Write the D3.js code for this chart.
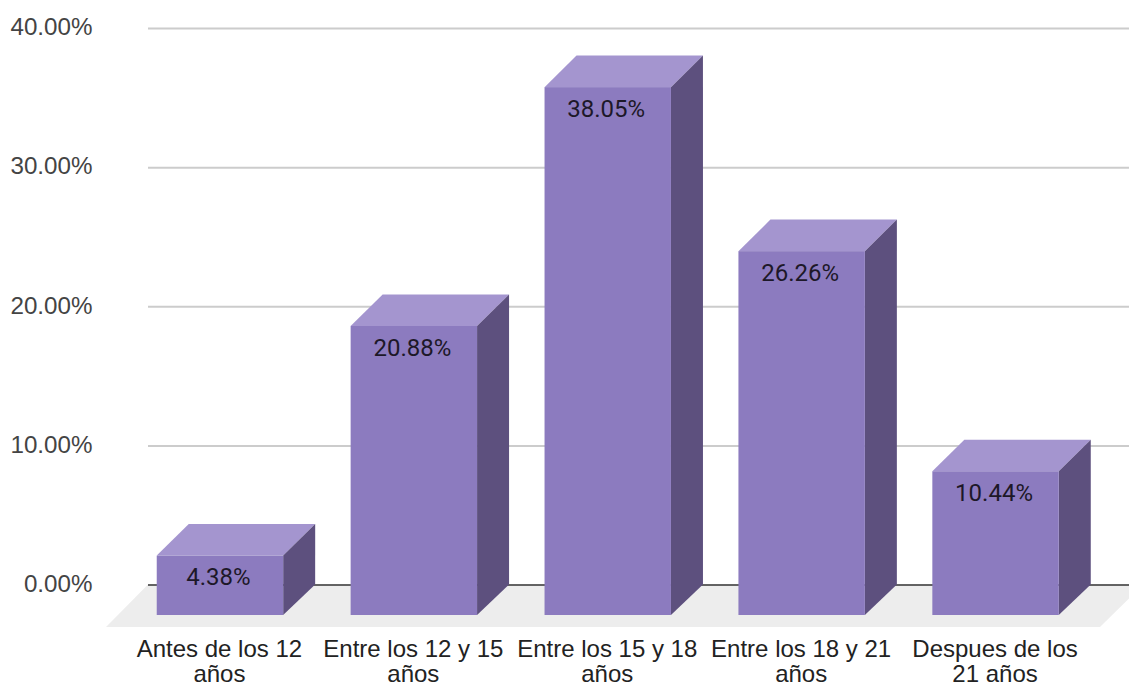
<!DOCTYPE html>
<html lang="es">
<head>
<meta charset="UTF-8" />
<title>Chart</title>
<style>
  html, body { margin: 0; padding: 0; background: #fff; overflow: hidden; }
  svg { display: block; }
</style>
</head>
<body>
<div id="container"></div>
<script src="https://cdnjs.cloudflare.com/ajax/libs/d3/7.8.5/d3.min.js"></script>
<script>
  const categories = [
    "Antes de los 12\naños",
    "Entre los 12 y 15\naños",
    "Entre los 15 y 18\naños",
    "Entre los 18 y 21\naños",
    "Despues de los\n21 años"
  ];
  const values = [4.38, 20.88, 38.05, 26.26, 10.44];
  const yTicks = [0, 10, 20, 30, 40];

  const width = 1129, height = 684;
  const depth = 32; // how far the front of the bars sits from the back wall
  const frontBottom = 615;
  const axisFont = "'Liberation Sans', Arial, sans-serif";

  const svg = d3.select("#container").append("svg")
    .attr("width", width).attr("height", height);

  const y = d3.scaleLinear().domain([0, 40]).range([584.5, 28]);
  // band scale is on the front plane of the bars
  const x = d3.scaleBand().domain(categories)
    .range([123, 1092.5]).paddingInner(0.348).paddingOuter(0.174);

  // floor
  svg.append("path")
    .attr("d", `M106,${y(0) + 42.5}L148,${y(0)}H${width}V${y(0) + 14}L1100,${y(0) + 42.5}Z`)
    .attr("fill", "#ededed");

  // grid + y labels
  const yAxis = d3.axisLeft(y).tickValues(yTicks)
    .tickFormat(d => d.toFixed(2) + "%")
    .tickSizeInner(-(width - 148)).tickSizeOuter(0).tickPadding(55.5);
  const yG = svg.append("g").attr("transform", "translate(148,0)").call(yAxis);
  yG.select(".domain").remove();
  yG.selectAll(".tick line")
    .attr("stroke", d => d === 0 ? "#333" : "#ccc")
    .attr("stroke-width", d => d === 0 ? 1.5 : 2);
  yG.selectAll(".tick text")
    .attr("dy", "0.28em")
    .attr("fill", "#444").style("font", `24.2px ${axisFont}`);

  // bars
  const bar = svg.selectAll("g.bar").data(values).enter().append("g")
    .attr("class", "bar")
    .attr("transform", (d, i) => `translate(${x(categories[i])},0)`);
  const w = x.bandwidth();

  bar.append("path") // top
    .attr("d", d => `M0,${y(d) + depth}L${depth},${y(d) + 0.4}H${w + depth}L${w},${y(d) + depth}Z`)
    .attr("fill", "#a495cf");
  bar.append("path") // side
    .attr("d", d => `M${w},${y(d) + depth}L${w + depth},${y(d) + 0.4}V${y(0)}L${w},${frontBottom}Z`)
    .attr("fill", "#5d507e");
  bar.append("rect") // front
    .attr("y", d => y(d) + depth)
    .attr("width", w)
    .attr("height", d => frontBottom - y(d) - depth)
    .attr("fill", "#8c7bbf");

  // data labels
  bar.append("text")
    .text(d => d.toFixed(2) + "%")
    .attr("x", w / 2 - 1.5)
    .attr("y", d => y(d) + depth + 29.5)
    .attr("text-anchor", "middle")
    .attr("fill", "#1d1828")
    .style("font", "24px Roboto, sans-serif");

  // x labels
  const xLabel = svg.selectAll("text.xlabel").data(categories).enter().append("text")
    .attr("class", "xlabel")
    .attr("text-anchor", "middle")
    .attr("fill", "#222")
    .style("font", `24px ${axisFont}`);
  xLabel.selectAll("tspan").data(d => d.split("\n").map(t => ({ t, c: d }))).enter().append("tspan")
    .text(d => d.t)
    .attr("x", d => x(d.c) + w / 2 - 0.5)
    .attr("y", (d, i) => 657 + i * 25);
</script>
</body>
</html>
